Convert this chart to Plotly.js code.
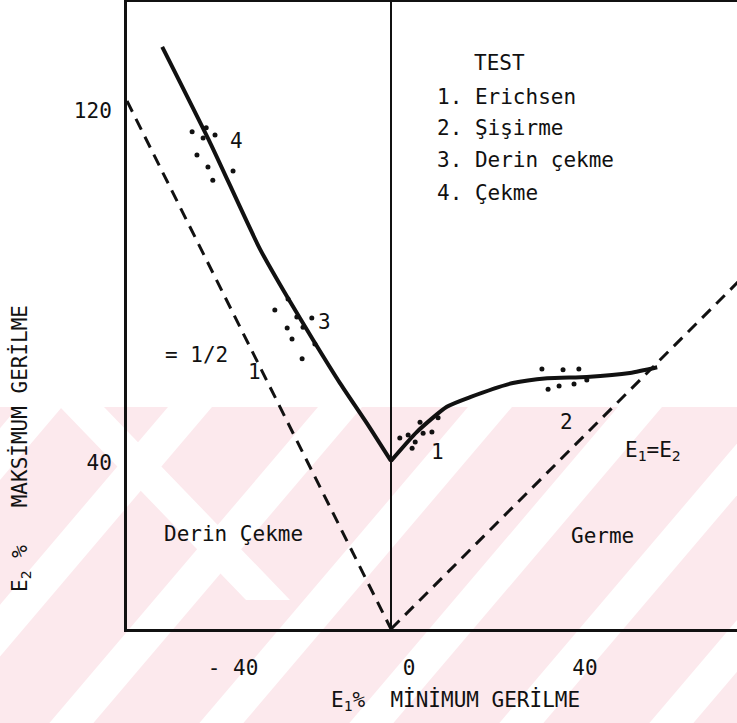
<!DOCTYPE html>
<html>
<head>
<meta charset="utf-8">
<script src="https://cdn.plot.ly/plotly-3.0.1.min.js"></script>
<style>
  html, body { margin: 0; padding: 0; background: #ffffff; }
  #chart { width: 737px; height: 723px; }
</style>
</head>
<body>
<div id="chart"></div>
<script>
// Forming limit diagram: E1 = minimum strain (%), E2 = maximum strain (%)

// limit curve, deep-drawing side (E1 < 0)
const drawSideX = [-52.0, -41.1, -29.8, -23.6, -17.7, -11.6, -5.5, 0];
const drawSideY = [132.3, 110.5, 86.4, 75.5, 65.7, 55.9, 46.8, 38.2];
// limit curve, stretching side (E1 > 0)
const stretchSideX = [0, 5.9, 12.7, 18.0, 27.7, 35.5, 44.5, 54.3, 60.5];
const stretchSideY = [38.2, 44.8, 50.5, 52.7, 55.9, 57.0, 57.3, 58.2, 59.5];

// strain paths: E1/E2 = -1/2 and E1 = E2
const halfPathX = [-60, 0];
const halfPathY = [120, 0];
const equalPathX = [0, 85];
const equalPathY = [0, 85];

// test results
const erichsenX = [2.0, 3.9, 4.8, 5.5, 6.6, 7.3, 9.3, 10.7];
const erichsenY = [43.4, 44.1, 41.1, 42.5, 47.0, 44.5, 44.8, 48.0];
const bulgeX = [34.3, 39.1, 42.7, 35.7, 38.2, 41.6, 44.5];
const bulgeY = [59.1, 58.9, 59.1, 54.5, 55.2, 55.7, 56.6];
const deepDrawX = [-26.4, -23.4, -21.4, -23.6, -22.5, -20.2, -18.0, -17.3, -20.0];
const deepDrawY = [72.5, 75.0, 70.9, 68.4, 65.9, 61.4, 70.7, 64.8, 68.6];
const tensileX = [-42.0, -40.0, -42.7, -44.1, -41.6, -40.5, -35.9, -45.2];
const tensileY = [113.9, 112.3, 111.6, 107.7, 105.0, 102.0, 104.1, 113.0];

// axis ticks
const xTickVals = [-40, 0, 40];
const xTickText = ['- 40', '0', '40'];
const yTickVals = [40, 120];
const yTickText = ['40', '120'];

// test list
const testTitle = 'TEST';
const testNames = ['1. Erichsen', '2. Şişirme', '3. Derin çekme', '4. Çekme'];

const FONT = 'DejaVu Sans Mono, monospace';
const INK = '#111111';

const solid = (x, y) => ({
  x, y, type: 'scatter', mode: 'lines', hoverinfo: 'skip',
  line: { color: INK, width: 4, shape: 'spline', smoothing: 0.6 }
});
const dashed = (x, y) => ({
  x, y, type: 'scatter', mode: 'lines', hoverinfo: 'skip',
  line: { color: INK, width: 3, dash: '12px,8px' }
});
const dots = (x, y) => ({
  x, y, type: 'scatter', mode: 'markers', hoverinfo: 'skip',
  marker: { color: INK, size: 5 }
});

const traces = [
  dashed(halfPathX, halfPathY),
  dashed(equalPathX, equalPathY),
  solid(drawSideX, drawSideY),
  solid(stretchSideX, stretchSideY),
  dots(erichsenX, erichsenY),
  dots(bulgeX, bulgeY),
  dots(deepDrawX, deepDrawY),
  dots(tensileX, tensileY)
];

// page-pixel helpers for the faint background bands
const M = { l: 127, r: 0, t: 2, b: 94 };
const PW = 737 - M.l - M.r, PH = 723 - M.t - M.b;
const px2x = px => (px - M.l) / PW;
const py2y = py => (723 - M.b - py) / PH;
const pp = (px, py) => px2x(px).toFixed(4) + ',' + py2y(py).toFixed(4);
const poly = pts => 'M ' + pts.map(p => pp(p[0], p[1])).join(' L ') + ' Z';

const BAND_TOP = 407, BAND_BOTTOM = 723;
// rising bands: centre x on the top edge, run dx per px of depth, width
const rising = [40, 190, 340, 490, 640, 790, 940];
const RUN = 0.85, BW = 44;
const bandPolys = rising.map(c => {
  const dy = BAND_BOTTOM - BAND_TOP;
  return [[c - BW / 2, BAND_TOP], [c + BW / 2, BAND_TOP],
          [c + BW / 2 - RUN * dy, BAND_BOTTOM], [c - BW / 2 - RUN * dy, BAND_BOTTOM]];
});
// a falling band in the lower left
bandPolys.push([[60, BAND_TOP], [104, BAND_TOP], [290, 600], [246, 600]]);

const shapes = [
  { type: 'rect', xref: 'paper', yref: 'paper', layer: 'below',
    x0: px2x(0), x1: 1, y0: py2y(BAND_BOTTOM), y1: py2y(BAND_TOP),
    fillcolor: '#fce9ed', line: { width: 0 } }
].concat(bandPolys.map(b => ({
  type: 'path', xref: 'paper', yref: 'paper', layer: 'below',
  path: poly(b), fillcolor: '#ffffff', line: { width: 0 }
})));

const note = (text, x, y, extra) => Object.assign({
  text, x, y, xref: 'x', yref: 'y', showarrow: false,
  xanchor: 'center', yanchor: 'middle',
  font: { family: FONT, size: 21, color: INK }
}, extra || {});

const annotations = [
  note(testTitle, 18.4, 128.6, { xanchor: 'left' }),
  ...testNames.map((t, i) => note(t, 10.0, [120.9, 113.9, 106.6, 99.1][i], { xanchor: 'left' })),
  note('4', -35.2, 110.9),
  note('3', -15.0, 69.8),
  note('= 1/2', -44.3, 62.3),
  note('1', -31.1, 58.4),
  note('1', 10.5, 40.2),
  note('2', 39.8, 47.0),
  note('E<sub>1</sub>=E<sub>2</sub>', 59.5, 40.5),
  note('Derin Çekme', -35.9, 21.6),
  note('Germe', 48.0, 21.1),
  // axis titles
  note('E<sub>1</sub>%\u00a0\u00a0MİNİMUM GERİLME', px2x(455), py2y(700),
       { xref: 'paper', yref: 'paper' }),
  note('E<sub>2</sub>\u00a0%\u00a0\u00a0\u00a0MAKSİMUM GERİLME', px2x(20), py2y(449),
       { xref: 'paper', yref: 'paper', textangle: -90 })
];

const layout = {
  width: 737, height: 723,
  margin: M,
  paper_bgcolor: '#ffffff',
  plot_bgcolor: 'rgba(0,0,0,0)',
  showlegend: false,
  font: { family: FONT, size: 21, color: INK },
  xaxis: {
    range: [-60, 78.64], showgrid: false,
    showline: true, mirror: true, linecolor: INK, linewidth: 3,
    zeroline: true, zerolinecolor: INK, zerolinewidth: 2.5,
    ticks: '', tickmode: 'array', tickvals: xTickVals, ticktext: xTickText,
    ticklabelshift: 18, ticklabelstandoff: 18,
    tickfont: { family: FONT, size: 21, color: INK }
  },
  yaxis: {
    range: [0, 142.5], showgrid: false,
    showline: true, mirror: false, linecolor: INK, linewidth: 3,
    zeroline: false,
    ticks: '', tickmode: 'array', tickvals: yTickVals, ticktext: yTickText,
    ticklabelshift: 10, ticklabelstandoff: 8,
    tickfont: { family: FONT, size: 21, color: INK }
  },
  shapes,
  annotations
};

Plotly.newPlot('chart', traces, layout, { staticPlot: true, displayModeBar: false });
</script>
</body>
</html>
